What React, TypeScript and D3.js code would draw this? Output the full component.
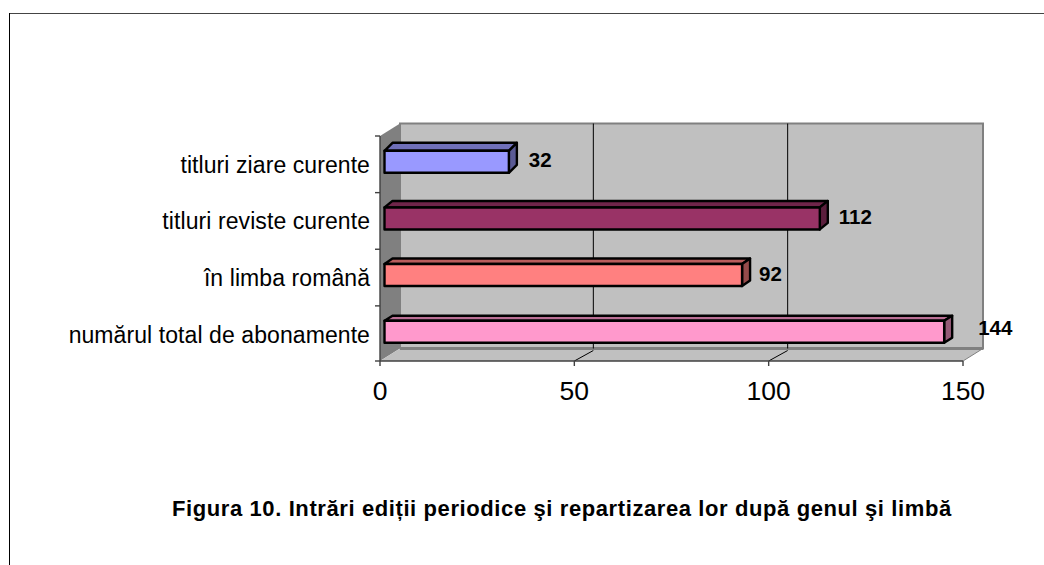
import React from "react";
import * as d3 from "d3";

const categories = ["titluri ziare curente", "titluri reviste curente", "în limba română", "numărul total de abonamente"];
const values = [32, 112, 92, 144];
const fills = ["#9999FF", "#993366", "#FF8080", "#FF99CC"];
const ticks = [0, 50, 100, 150];
const title = "Figura 10. Intrări ediții periodice şi repartizarea lor după genul şi limbă";

const W = 1044, H = 565;
const FONT = "'Liberation Sans', Arial, sans-serif";
const x = d3.scaleLinear().domain([0, 150]).range([380, 963]);
const y = d3.scaleBand<string>().domain(categories).range([133.5, 360]);
const plotTop = 136, plotBottom = 361;
const dx = 20, dy = -12.5, gridDx = 19;
const barH = 22, barInset = 4.5, barDx = 8;
const barDy = [8, 6.5, 5.5, 5];
const labelGap = [20, 19, 17, 34];
const labelNudge = [5.5, 6, 6, 3];
const pts = (a: number[][]) => a.map(p => p.join(",")).join(" ");

export default function App() {
  const x0 = x(0), x1 = x(150);
  return (
    <svg width={W} height={H} viewBox={`0 0 ${W} ${H}`}
      style={{ position: "absolute", left: 0, top: 0, background: "#fff" }}>
      <line x1={9} x2={1044} y1={13.5} y2={13.5} stroke="#444" strokeWidth={1} />
      <line x1={9.5} x2={9.5} y1={13} y2={565} stroke="#000" strokeWidth={1} />

      {/* walls */}
      <polygon points={pts([[x0 + dx, plotTop + dy], [x1 + dx, plotTop + dy], [x1 + dx, plotBottom + dy], [x0 + dx, plotBottom + dy]])} fill="#C0C0C0" stroke="#808080" strokeWidth={2} />
      <polygon points={pts([[x0, plotTop], [x0 + dx, plotTop + dy], [x0 + dx, plotBottom + dy], [x0, plotBottom]])} fill="#808080" />
      <polygon points={pts([[x0, plotBottom], [x0 + dx, plotBottom + dy], [x1 + dx, plotBottom + dy], [x1, plotBottom]])} fill="#C0C0C0" />
      <line x1={x0 + dx} x2={x1 + dx} y1={plotBottom + dy} y2={plotBottom + dy} stroke="#808080" strokeWidth={3} />
      <line x1={x1} x2={x1 + dx} y1={plotBottom} y2={plotBottom + dy} stroke="#808080" strokeWidth={1} />

      {/* gridlines */}
      {ticks.slice(1, 3).map(t => (
        <g key={t} stroke="#000" strokeWidth={1} fill="none">
          <line x1={x(t) + gridDx} x2={x(t) + gridDx} y1={plotTop + dy} y2={plotBottom + dy} />
          <line x1={x(t) + gridDx} x2={x(t)} y1={plotBottom + dy + 2} y2={plotBottom} />
        </g>
      ))}

      {/* axes */}
      <g stroke="#404040" strokeWidth={1.4} fill="none">
        <line x1={x0} x2={x0} y1={plotTop} y2={plotBottom} />
        <line x1={x0} x2={x1} y1={plotBottom} y2={plotBottom} />
        {categories.map(c => <line key={c} x1={x0 - 5} x2={x0} y1={y(c)! + 2.5} y2={y(c)! + 2.5} />)}
        <line x1={x0 - 5} x2={x0} y1={plotBottom} y2={plotBottom} />
        {ticks.map(t => <line key={t} x1={x(t)} x2={x(t)} y1={plotBottom} y2={plotBottom + 5} />)}
      </g>

      {/* bars */}
      {categories.map((c, i) => {
        const cy = y(c)! + y.bandwidth() / 2;
        const top = cy - barH / 2, bot = cy + barH / 2;
        const l = x0 + barInset, r = x(values[i]) + barInset;
        const d = barDy[i];
        const col = d3.color(fills[i])!;
        return (
          <g key={c} stroke="#000" strokeWidth={2.4} strokeLinejoin="round">
            <polygon points={pts([[l, top], [l + barDx, top - d], [r + barDx, top - d], [r, top]])} fill={col.darker(0.9).formatHex()} />
            <polygon points={pts([[r, top], [r + barDx, top - d], [r + barDx, bot - d], [r, bot]])} fill={col.darker(1.5).formatHex()} />
            <rect x={l} y={top} width={r - l} height={barH} fill={fills[i]} />
          </g>
        );
      })}

      {/* value labels */}
      {categories.map((c, i) => (
        <text key={c} x={x(values[i]) + barInset + labelGap[i]} y={y(c)! + y.bandwidth() / 2 + labelNudge[i]}
          fontFamily={FONT} fontSize={20.5} fontWeight="bold" fill="#000">{values[i]}</text>
      ))}

      {/* category labels */}
      {categories.map(c => (
        <text key={c} x={370} y={y(c)! + y.bandwidth() / 2 + 11} textAnchor="end"
          fontFamily={FONT} fontSize={23} letterSpacing={0.08} fill="#000">{c}</text>
      ))}

      {/* x tick labels */}
      {ticks.map(t => (
        <text key={t} x={x(t)} y={400} textAnchor="middle" fontFamily={FONT} fontSize={26.5} fill="#000">{t}</text>
      ))}

      <text x={172} y={516} fontFamily={FONT} fontSize={22} letterSpacing={0.6} fontWeight="bold" fill="#000">{title}</text>
    </svg>
  );
}
